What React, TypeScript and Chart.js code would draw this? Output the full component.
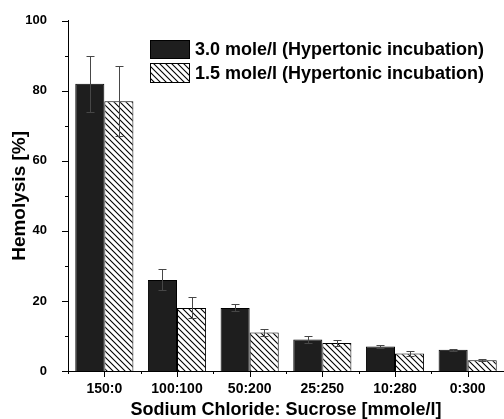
import React, { useEffect, useRef } from 'react';
import { Chart, registerables } from 'chart.js';

Chart.register(...registerables);

const categories = ['150:0', '100:100', '50:200', '25:250', '10:280', '0:300'];
const seriesLabels = ['3.0 mole/l (Hypertonic incubation)', '1.5 mole/l (Hypertonic incubation)'];
const hemolysis30 = [82, 26, 18, 9, 7, 6.1];
const errors30 = [8, 3, 1, 1, 0.5, 0.3];
const hemolysis15 = [77, 18, 11, 8, 5, 3.1];
const errors15 = [10, 3, 1, 0.9, 0.7, 0.3];
const yTicks = [0, 20, 40, 60, 80, 100];

const FONT = "'Liberation Sans', Arial, Helvetica, sans-serif";
const DARK = '#1e1e1e';

function makeHatch(): CanvasPattern | string {
  const s = 6;
  const c = document.createElement('canvas');
  c.width = s;
  c.height = s;
  const g = c.getContext('2d');
  if (!g) return '#fff';
  g.fillStyle = '#fff';
  g.fillRect(0, 0, s, s);
  g.strokeStyle = '#000';
  g.lineWidth = 1.1;
  g.beginPath();
  g.moveTo(-1, -1);
  g.lineTo(s + 1, s + 1);
  g.moveTo(-1, s - 1);
  g.lineTo(1, s + 1);
  g.moveTo(s - 1, -1);
  g.lineTo(s + 1, 1);
  g.stroke();
  return g.createPattern(c, 'repeat') || '#fff';
}

const errorBarsPlugin = {
  id: 'errorBars',
  afterDatasetsDraw(chart: any) {
    const { ctx } = chart;
    const y = chart.scales.y;
    ctx.save();
    ctx.strokeStyle = '#474747';
    ctx.lineWidth = 1;
    chart.data.datasets.forEach((ds: any, di: number) => {
      const meta = chart.getDatasetMeta(di);
      meta.data.forEach((bar: any, i: number) => {
        const v = ds.data[i];
        const e = ds.errors[i];
        const x = Math.round(bar.x) + 0.5;
        const yt = Math.round(y.getPixelForValue(v + e)) + 0.5;
        const yb = Math.round(y.getPixelForValue(v - e)) + 0.5;
        ctx.beginPath();
        ctx.moveTo(x, yt);
        ctx.lineTo(x, yb);
        ctx.moveTo(x - 4, yt);
        ctx.lineTo(x + 4, yt);
        ctx.moveTo(x - 4, yb);
        ctx.lineTo(x + 4, yb);
        ctx.stroke();
      });
    });
    ctx.restore();
  },
};

const axisTicksPlugin = {
  id: 'axisTicks',
  afterDraw(chart: any) {
    const { ctx, chartArea } = chart;
    const x = chart.scales.x;
    const y = chart.scales.y;
    ctx.save();
    ctx.strokeStyle = '#000';
    ctx.lineWidth = 1;
    ctx.beginPath();
    for (let v = 0; v <= 100; v += 10) {
      const py = Math.round(y.getPixelForValue(v)) + 0.5;
      const len = v % 20 === 0 ? 6 : 3;
      ctx.moveTo(chartArea.left - len, py);
      ctx.lineTo(chartArea.left, py);
    }
    const n = categories.length;
    for (let i = 0; i < n; i++) {
      const px = Math.round(x.getPixelForValue(i)) + 0.5;
      ctx.moveTo(px, chartArea.bottom);
      ctx.lineTo(px, chartArea.bottom + 6);
    }
    for (let i = 0; i <= n; i++) {
      const px = Math.round(x.getPixelForValue(i - 0.5)) + 0.5;
      ctx.moveTo(px, chartArea.bottom);
      ctx.lineTo(px, chartArea.bottom + 3);
    }
    ctx.stroke();
    ctx.restore();
  },
};

const legendPlugin = {
  id: 'customLegend',
  afterDraw(chart: any) {
    const { ctx } = chart;
    const boxX = 150;
    const boxW = 40;
    const rows = [
      { y: 40, h: 19 },
      { y: 63, h: 20 },
    ];
    ctx.save();
    chart.data.datasets.forEach((ds: any, i: number) => {
      const r = rows[i];
      ctx.fillStyle = ds.backgroundColor;
      ctx.fillRect(boxX, r.y, boxW, r.h);
      ctx.strokeStyle = '#000';
      ctx.lineWidth = 1;
      ctx.strokeRect(boxX + 0.5, r.y + 0.5, boxW - 1, r.h - 1);
      ctx.fillStyle = '#000';
      ctx.font = `bold 18px ${FONT}`;
      ctx.textBaseline = 'middle';
      ctx.textAlign = 'left';
      ctx.fillText(ds.label, boxX + 45, r.y + r.h / 2 + 1);
    });
    ctx.restore();
  },
};

export default function App() {
  const ref = useRef<HTMLCanvasElement | null>(null);

  useEffect(() => {
    document.body.style.margin = '0';
    const canvas = ref.current;
    if (!canvas) return;
    const hatch = makeHatch();
    const chart = new Chart(canvas, {
      type: 'bar',
      data: {
        labels: categories,
        datasets: [
          {
            label: seriesLabels[0],
            data: hemolysis30,
            errors: errors30,
            backgroundColor: DARK,
            borderColor: '#000',
            borderWidth: 1,
            categoryPercentage: 0.8,
            barPercentage: 1.0,
          } as any,
          {
            label: seriesLabels[1],
            data: hemolysis15,
            errors: errors15,
            backgroundColor: hatch,
            borderColor: '#000',
            borderWidth: 1,
            categoryPercentage: 0.8,
            barPercentage: 1.0,
          } as any,
        ],
      },
      options: {
        responsive: false,
        animation: false,
        devicePixelRatio: 1,
        layout: { padding: { top: 19, right: 0, left: 0, bottom: 0 } },
        plugins: {
          legend: { display: false },
          tooltip: { enabled: false },
        },
        scales: {
          x: {
            offset: true,
            grid: { display: false },
            border: { display: true, color: '#000', width: 1 },
            ticks: {
              color: '#000',
              padding: 2,
              font: { family: FONT, size: 14, weight: 700 },
            },
            title: {
              display: true,
              text: 'Sodium Chloride: Sucrose [mmole/l]',
              color: '#000',
              font: { family: FONT, size: 18, weight: 700, lineHeight: 1 },
              padding: { top: 0, bottom: 0 },
            },
            afterFit(scale: any) {
              scale.height = 48;
            },
          },
          y: {
            min: 0,
            max: 100,
            afterBuildTicks(scale: any) {
              scale.ticks = yTicks.map((v) => ({ value: v }));
            },
            grid: { display: false },
            border: { display: true, color: '#000', width: 1 },
            ticks: {
              color: '#000',
              padding: 13,
              font: { family: FONT, size: 13, weight: 700 },
            },
            title: {
              display: true,
              text: 'Hemolysis [%]',
              color: '#000',
              font: { family: FONT, size: 19, weight: 700, lineHeight: 1 },
              padding: { top: 10, bottom: 0 },
            },
            afterFit(scale: any) {
              scale.width = 68;
            },
          },
        },
      } as any,
      plugins: [errorBarsPlugin, axisTicksPlugin, legendPlugin],
    });
    return () => chart.destroy();
  }, []);

  return (
    <canvas
      ref={ref}
      width={504}
      height={419}
      style={{ display: 'block', width: 504, height: 419 }}
    />
  );
}
